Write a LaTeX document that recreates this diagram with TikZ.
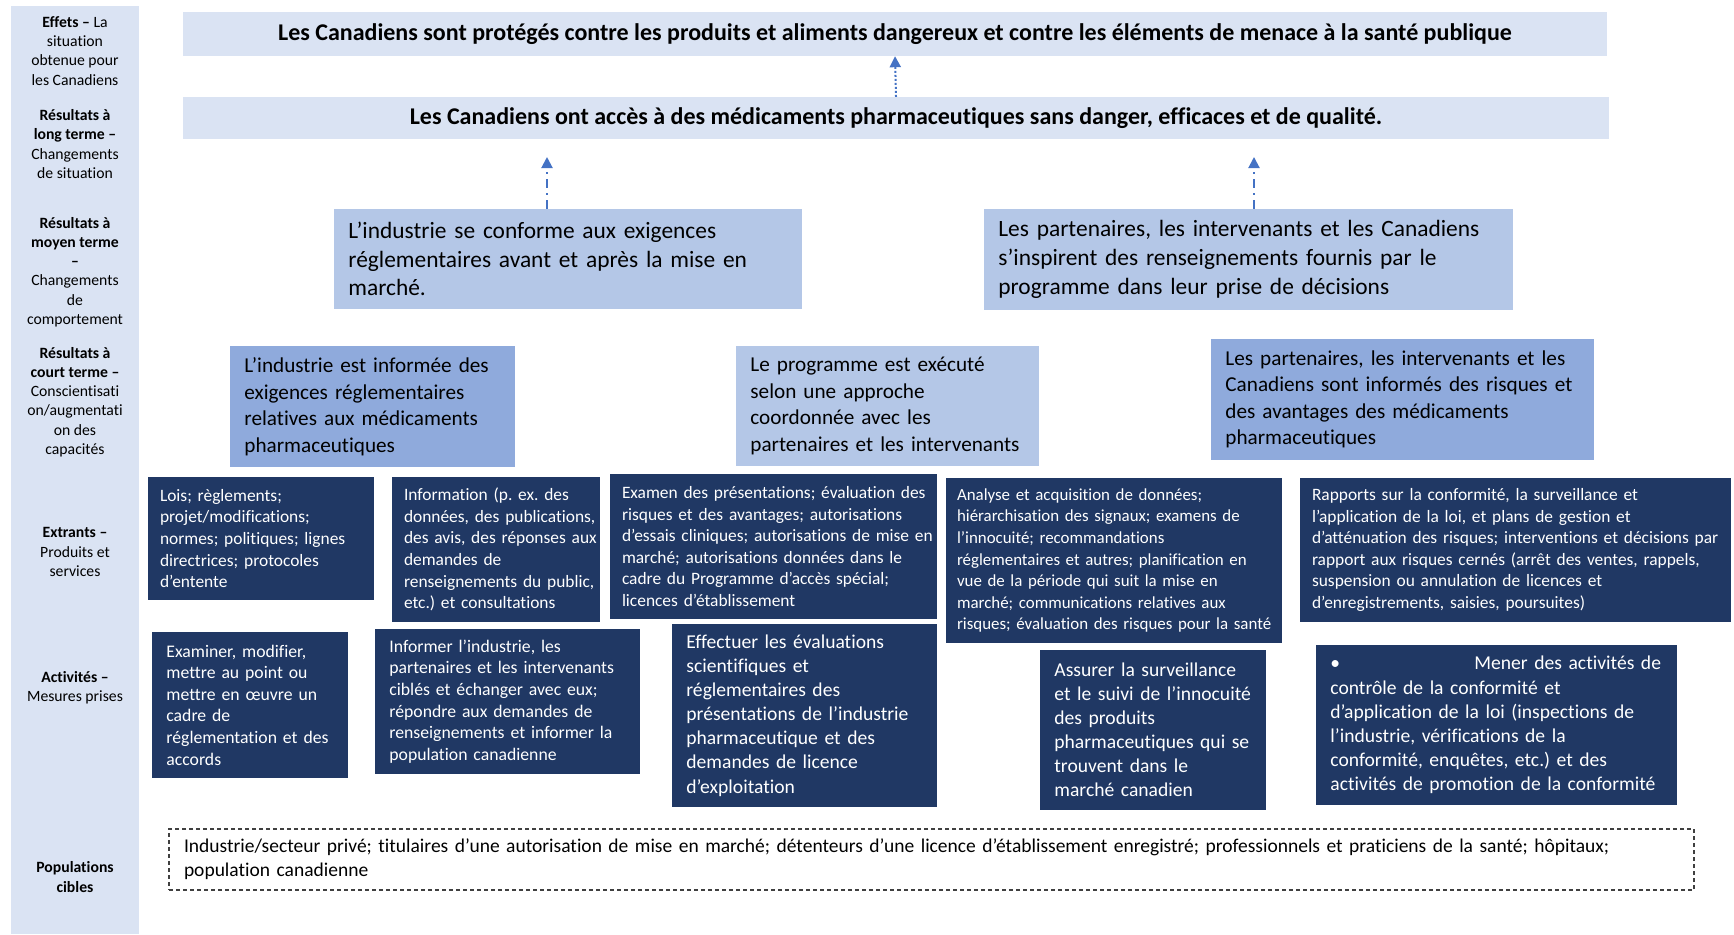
\documentclass[tikz,border=0pt]{standalone}
\usepackage{fontspec}
\setmainfont{Carlito}[Ligatures=NoCommon]
\frenchspacing
\usetikzlibrary{arrows.meta}

\definecolor{lightfill}{HTML}{DAE3F3}
\definecolor{midfill}{HTML}{B4C7E7}
\definecolor{shortfill}{HTML}{8FAADC}
\definecolor{darkfill}{HTML}{203864}
\definecolor{arrowblue}{HTML}{4472C4}
\definecolor{popline}{HTML}{404040}

\begin{document}
\begin{tikzpicture}[x=1pt, y=-1pt,
    sidelabel/.style={align=center, inner sep=0pt, font=\fontsize{15.7}{19.2}\selectfont},
    effectbox/.style={fill=lightfill, inner sep=0pt, align=center, font=\fontsize{24}{28}\selectfont\bfseries},
    pad/.style={inner xsep=1pt, inner ysep=0pt, align=left, execute at begin node={\leftskip=#1\hyphenpenalty=10000\relax}},
    midbox/.style={fill=midfill, pad=13.4pt, font=\fontsize{23.4}{28.8}\selectfont},
    shortbox/.style={fill=shortfill, pad=13.4pt, font=\fontsize{21.2}{26.5}\selectfont},
    darkbox/.style={fill=darkfill, text=white, pad=11pt, font=\fontsize{17.4}{21.6}\selectfont},
    actbox/.style={darkbox, pad=13.4pt, font=\fontsize{17.7}{21.6}\selectfont},
    actbig/.style={actbox, font=\fontsize{19.6}{24.1}\selectfont},
    popbox/.style={draw=popline, line width=1.2pt, dash pattern=on 4pt off 3pt, pad=14pt, font=\fontsize{19.5}{24.3}\selectfont},
    flow/.style={draw=arrowblue, line width=2pt, -{Triangle[width=11pt,length=11pt]}}]
    \useasboundingbox (0,0) rectangle (1734,934);

    % Left column with the levels
    \fill[lightfill] (11,6) rectangle (139,934);
    \node[sidelabel] (lab1) at (75,51) {\textbf{Effets –} La\\situation\\obtenue pour\\les Canadiens};
    \node[sidelabel] (lab2) at (75,144) {\textbf{Résultats à}\\\textbf{long terme –}\\Changements\\de situation};
    \node[sidelabel] (lab3) at (75,272) {\textbf{Résultats à}\\\textbf{moyen terme}\\\textbf{–}\\Changements\\de\\comportement};
    \node[sidelabel] (lab4) at (75,402) {\textbf{Résultats à}\\\textbf{court terme –}\\Conscientisati\\on/augmentati\\on des\\capacités};
    \node[sidelabel] (lab5) at (75,552) {\textbf{Extrants –}\\Produits et\\services};
    \node[sidelabel] (lab6) at (75,688) {\textbf{Activités –}\\Mesures prises};
    \node[sidelabel] (lab7) at (75,877) {\textbf{Populations}\\\textbf{cibles}};

    % Effets and long term results
    \node[effectbox, minimum width=1424pt, minimum height=44pt] (effet) at (895,34) {Les Canadiens sont protégés contre les produits et aliments dangereux et contre les éléments de menace à la santé publique};
    \node[effectbox, minimum width=1426pt, minimum height=42pt] (long) at (896,118) {Les Canadiens ont accès à des médicaments pharmaceutiques sans danger, efficaces et de qualité.};

    % Medium term results
    \node[midbox, text width=466pt, minimum height=100pt] (moyen1) at (568,259) {L’industrie se conforme aux exigences\\réglementaires avant et après la mise en\\marché.};
    \node[midbox, text width=527pt, minimum height=101pt] (moyen2) at (1248.5,259.5) {Les partenaires, les intervenants et les Canadiens\\s’inspirent des renseignements fournis par le\\programme dans leur prise de décisions};

    % Short term results
    \node[shortbox, text width=283pt, minimum height=121pt] (court1) at (372.5,406.5) {L’industrie est informée des\\exigences réglementaires\\relatives aux médicaments\\pharmaceutiques};
    \node[shortbox, fill=midfill, text width=301pt, minimum height=120pt] (court2) at (887.5,406) {Le programme est exécuté\\selon une approche\\coordonnée avec les\\partenaires et les intervenants};
    \node[shortbox, text width=381pt, minimum height=121pt] (court3) at (1402.5,399.5) {Les partenaires, les intervenants et les\\Canadiens sont informés des risques et\\des avantages des médicaments\\pharmaceutiques};

    % Outputs
    \node[darkbox, text width=224pt, minimum height=123pt] (extr1) at (261,538.5) {Lois; règlements;\\projet/modifications;\\normes; politiques; lignes\\directrices; protocoles\\d’entente};
    \node[darkbox, text width=206pt, minimum height=145pt] (extr2) at (496,549.5) {Information (p. ex. des\\données, des publications,\\des avis, des réponses aux\\demandes de\\renseignements du public,\\etc.) et consultations};
    \node[darkbox, text width=325pt, minimum height=145pt] (extr3) at (773.5,546.5) {Examen des présentations; évaluation des\\risques et des avantages; autorisations\\d’essais cliniques; autorisations de mise en\\marché; autorisations données dans le\\cadre du Programme d’accès spécial;\\licences d’établissement};
    \node[darkbox, pad=10pt, font=\fontsize{16.9}{21.6}\selectfont, text width=334pt, minimum height=165pt] (extr4) at (1114,560.5) {Analyse et acquisition de données;\\hiérarchisation des signaux; examens de\\l’innocuité; recommandations\\réglementaires et autres; planification en\\vue de la période qui suit la mise en\\marché; communications relatives aux\\risques; évaluation des risques pour la santé};
    \node[darkbox, text width=429pt, minimum height=144pt] (extr5) at (1515.5,550) {Rapports sur la conformité, la surveillance et\\l’application de la loi, et plans de gestion et\\d’atténuation des risques; interventions et décisions par\\rapport aux risques cernés (arrêt des ventes, rappels,\\suspension ou annulation de licences et\\d’enregistrements, saisies, poursuites)};

    % Activities
    \node[actbox, text width=194pt, minimum height=146pt] (act1) at (250,705) {Examiner, modifier,\\mettre au point ou\\mettre en œuvre un\\cadre de\\réglementation et des\\accords};
    \node[actbox, text width=263pt, minimum height=145pt] (act2) at (507.5,701.5) {Informer l’industrie, les\\partenaires et les intervenants\\ciblés et échanger avec eux;\\répondre aux demandes de\\renseignements et informer la\\population canadienne};
    \node[actbig, text width=263pt, minimum height=183pt] (act3) at (804.5,715.5) {Effectuer les évaluations\\scientifiques et\\réglementaires des\\présentations de l’industrie\\pharmaceutique et des\\demandes de licence\\d’exploitation};
    \node[actbig, text width=224pt, minimum height=160pt] (act4) at (1153,730) {Assurer la surveillance\\et le suivi de l’innocuité\\des produits\\pharmaceutiques qui se\\trouvent dans le\\marché canadien};
    \node[actbig, text width=359pt, minimum height=160pt] (act5) at (1496.5,725) {\makebox[144pt][l]{\textbullet}Mener des activités de\\contrôle de la conformité et\\d’application de la loi (inspections de\\l’industrie, vérifications de la\\conformité, enquêtes, etc.) et des\\activités de promotion de la conformité};

    % Target populations
    \node[popbox, text width=1523pt, minimum height=61pt] (pop) at (931.5,859.5) {Industrie/secteur privé; titulaires d’une autorisation de mise en marché; détenteurs d’une licence d’établissement enregistré; professionnels et praticiens de la santé; hôpitaux;\\population canadienne};

    % Arrows between levels
    \coordinate (up1) at (547,157);
    \coordinate (up2) at (1254,157);
    \draw[flow, dash pattern=on 2pt off 2pt] (long.north) -- (effet.south);
    \draw[flow, dash pattern=on 9pt off 5pt on 2pt off 5pt] (moyen1.north -| up1) -- (up1);
    \draw[flow, dash pattern=on 9pt off 5pt on 2pt off 5pt] (moyen2.north -| up2) -- (up2);
\end{tikzpicture}
\end{document}
